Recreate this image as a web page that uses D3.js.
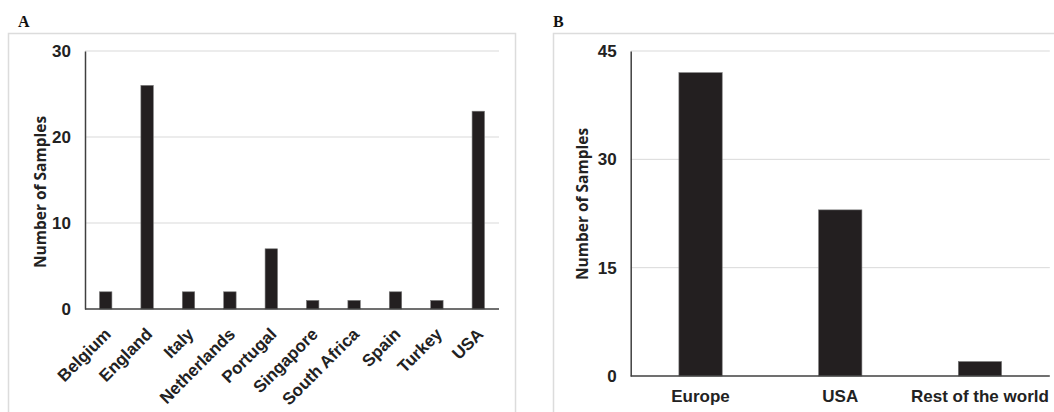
<!DOCTYPE html>
<html>
<head>
<meta charset="utf-8">
<script src="https://cdn.jsdelivr.net/npm/d3@7"></script>
<style>
  body { margin: 0; background: #fff; }
  svg { display: block; }
  .tick-label, .cat-label { font-family: "Liberation Sans", Arial, sans-serif; font-weight: bold; font-size: 17px; fill: #222; }
  .axis-title { font-family: "Open Sans", sans-serif; font-weight: bold; font-size: 15.5px; fill: #222; }
  .panel-label { font-family: "Liberation Serif", serif; font-weight: bold; font-size: 16px; fill: #111; }
</style>
</head>
<body>
<svg id="chart" width="1054" height="412"></svg>
<script>
// Panel A: samples per country
const countries = ['Belgium', 'England', 'Italy', 'Netherlands', 'Portugal', 'Singapore', 'South Africa', 'Spain', 'Turkey', 'USA'];
const countrySamples = [2, 26, 2, 2, 7, 1, 1, 2, 1, 23];
const ticksA = [0, 10, 20, 30];

// Panel B: samples per region
const regions = ['Europe', 'USA', 'Rest of the world'];
const regionSamples = [42, 23, 2];
const ticksB = [0, 15, 30, 45];

const svg = d3.select('#chart');
const barColor = '#231f20';
const gridColor = '#d9d9d9';
const axisColor = '#404040';

function drawPanel(opts) {
    const g = svg.append('g');

    // outer frame
    g.append('rect')
     .attr('x', opts.frame[0] + 0.5).attr('y', opts.frame[1] + 0.5)
     .attr('width', opts.frame[2]).attr('height', opts.frame[3])
     .attr('fill', 'none').attr('stroke', '#dcdcdc').attr('stroke-width', 1.5);

    g.append('text')
     .attr('class', 'panel-label')
     .attr('x', opts.labelX).attr('y', 27)
     .text(opts.label);

    const x = d3.scaleBand()
                .domain(opts.cats)
                .range(opts.xRange)
                .paddingInner(opts.pad)
                .paddingOuter(opts.pad / 2);

    const y = d3.scaleLinear()
                .domain([0, d3.max(opts.ticks)])
                .range(opts.yRange);

    // gridlines
    g.selectAll('.grid')
     .data(opts.ticks.filter(t => t > 0))
     .join('line')
     .attr('x1', opts.xRange[0]).attr('x2', opts.xRange[1])
     .attr('y1', d => y(d)).attr('y2', d => y(d))
     .attr('stroke', gridColor).attr('stroke-width', 1);

    // y axis (labels only, no ticks)
    const yAxis = d3.axisLeft(y).tickValues(opts.ticks).tickSize(0).tickPadding(14);
    const ya = g.append('g')
                .attr('transform', `translate(${opts.xRange[0]},0)`)
                .call(yAxis);
    ya.select('.domain').attr('stroke', axisColor).attr('stroke-width', 1.5);
    ya.selectAll('text').attr('class', 'tick-label').attr('font-family', null).attr('font-size', null);

    // bars
    g.selectAll('.bar')
     .data(opts.cats.map((c, i) => ({ cat: c, val: opts.values[i] })))
     .join('rect')
     .attr('x', d => x(d.cat))
     .attr('y', d => y(d.val))
     .attr('width', x.bandwidth())
     .attr('height', d => y(0) - y(d.val))
     .attr('fill', barColor)
     .attr('stroke', '#777').attr('stroke-width', 0.6);

    // x axis baseline
    g.append('line')
     .attr('x1', opts.xRange[0]).attr('x2', opts.xRange[1])
     .attr('y1', y(0)).attr('y2', y(0))
     .attr('stroke', axisColor).attr('stroke-width', 1.5);

    // category labels
    const labels = g.selectAll('.cat-label')
                    .data(opts.cats)
                    .join('text')
                    .attr('class', 'cat-label');
    if (opts.rotate) {
        labels.attr('text-anchor', 'end')
              .attr('transform', d => `translate(${x(d) + x.bandwidth() / 2 + 2},${y(0) + 22}) rotate(-45)`)
              .attr('dy', '0.35em')
              .text(d => d);
    } else {
        labels.attr('text-anchor', 'middle')
              .attr('x', d => x(d) + x.bandwidth() / 2)
              .attr('y', y(0) + 26)
              .text(d => d);
    }

    // y title
    g.append('text')
     .attr('class', 'axis-title')
     .attr('text-anchor', 'middle')
     .attr('transform', `translate(${opts.titleX},${opts.titleY}) rotate(-90)`)
     .text('Number of Samples');
}

drawPanel({
    label: 'A', labelX: 18,
    frame: [8, 33, 507, 400],
    cats: countries, values: countrySamples, ticks: ticksA,
    xRange: [85, 499], yRange: [309, 51], pad: 0.7,
    rotate: true, titleX: 46, titleY: 192
});

drawPanel({
    label: 'B', labelX: 553,
    frame: [553, 33, 520, 400],
    cats: regions, values: regionSamples, ticks: ticksB,
    xRange: [630.7, 1049.8], yRange: [376, 51], pad: 0.69,
    rotate: false, titleX: 588, titleY: 204
});
</script>
</body>
</html>
